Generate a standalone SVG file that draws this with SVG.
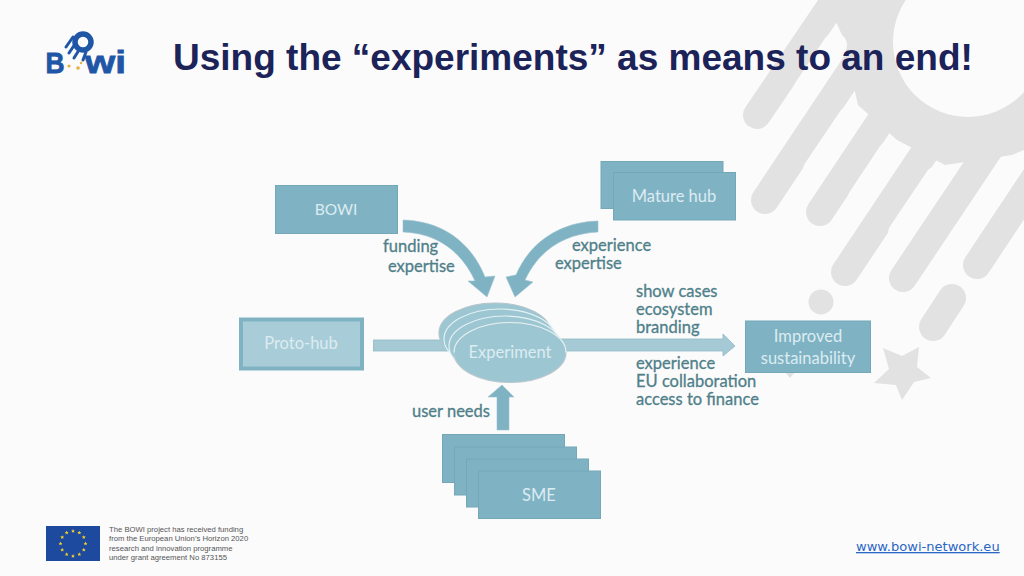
<svg xmlns="http://www.w3.org/2000/svg" xmlns:xlink="http://www.w3.org/1999/xlink" width="1024" height="576" viewBox="0 0 1024 576">
<style>
.wm{fill:#e2e2e3}
.f{stroke:#e2e2e3;stroke-width:28;stroke-linecap:round;fill:none}
.s{stroke:#fbfbfc;stroke-width:24;stroke-linecap:round;fill:none}
.box{fill:#7fb3c4;stroke:#74a8b9;stroke-width:1}
.bt{font-family:Lato,"Liberation Sans",sans-serif;font-size:16.5px;fill:#dcecf1;text-anchor:middle}
.lb{font-family:Lato,"Liberation Sans",sans-serif;font-size:16.5px;fill:#4f8089;stroke:#4f8089;stroke-width:.3}
.arr{fill:#7fb3c4;stroke:#9cc3cf;stroke-width:.6}
.arl{fill:#a5cad5;stroke:#8fb9c6;stroke-width:.8}
.el{fill:#9cc6d2;stroke:#e3f1f4;stroke-width:1.2}
.ft{font-family:"Liberation Sans",sans-serif;font-size:7.7px;fill:#555}
.lgt{font-family:"Liberation Sans",sans-serif;font-weight:700;fill:#1f57a6;stroke:#1f57a6;stroke-width:.8}
</style>
<defs>
<polygon id="st" points="0,-2 .6,-.6 2,-.6 .9,.3 1.3,1.7 0,.9 -1.3,1.7 -.9,.3 -2,-.6 -.6,-.6" fill="#f5d327"/>
</defs>
<rect width="1024" height="576" fill="#fbfbfc"/>
<g id="watermark">
<polygon class="wm" points="826,0 1024,0 1024,150 1012,155 945,165 897,140 858,105 842,35"/>
<path class="f" d="M757 115L835 0M765 200L885 20M820 212L940 32M845 272L965 92M903 278L1000 133M977 265L1060 140"/>
<path class="s" d="M835 45L805 90M850 118L815 170M890 153L860 198M937 178L900 233M1008 168L975 218"/>
<circle cx="968" cy="42" r="75" fill="#fbfbfc"/>
<path class="f" d="M933 327L952 298"/>
<circle class="wm" cx="821" cy="302" r="12.500"/>
<polygon class="wm" points="883,348 902,356 919,347 917,367 931,378 914,382 902,400 896,385 874,383 889,369"/>
<polygon class="wm" points="785,372 795,372 790,378"/>
</g>
<text id="title" x="173" y="70" font-family="'Liberation Sans',sans-serif" font-weight="700" font-size="37" fill="#1b2359">Using the “experiments” as means to an end!</text>
<g id="logo">
<text class="lgt" x="45.500" y="73" font-size="29" textLength="19" lengthAdjust="spacingAndGlyphs">B</text>
<circle cx="83" cy="42" r="8" fill="none" stroke="#1f57a6" stroke-width="5.500"/>
<path d="M73 37L66 47M75 44L69 53M79 50L74 58M86 52L83 60" stroke="#1f57a6" stroke-width="3" stroke-linecap="round" fill="none"/>
<circle cx="69" cy="66" r="1.600" fill="#e3b23c"/><circle cx="78" cy="68" r="1.800" fill="#e3b23c"/><circle cx="81" cy="63" r="1.200" fill="#e3b23c"/>
<text class="lgt" x="85" y="73" font-size="32" textLength="41" lengthAdjust="spacingAndGlyphs">wi</text>
</g>
<g id="connectors">
<path id="c-bowi" class="arr" d="M403 220C440 221 470 240 485 277L495 276L487 297L468 281L475 281C462 252 437 233 403 232Z"/>
<path id="c-mature" class="arr" d="M598 221C560 222 530 242 516 275L506 277L515 297L533 282L525 280C537 254 560 234 598 232Z"/>
<rect id="c-proto" class="arl" x="373.500" y="340" width="80" height="11"/>
<polygon id="c-out" class="arl" points="555,339 723,339 723,334 735,346 723,356 723,351 555,351"/>
<polygon id="c-sme" class="arr" points="497,430 497,397 488,397 502,385 514,397 509,397 509,430"/>
</g>
<g id="bowi"><rect class="box" x="275.500" y="185.500" width="122" height="48"/><text class="bt" x="336" y="215" style="font-size:15.500px">BOWI</text></g>
<g id="mature-hub"><rect class="box" x="601" y="161.500" width="122" height="47"/><rect class="box" x="613.500" y="172.500" width="122" height="47.500"/><text class="bt" x="674" y="202">Mature hub</text></g>
<g id="proto-hub"><rect x="241" y="319.500" width="121" height="49" fill="#a9cdd8" stroke="#7fb3c4" stroke-width="4"/><text class="bt" x="301" y="349">Proto-hub</text></g>
<g id="experiment">
<ellipse class="el" style="stroke:#b4c4c9" cx="495" cy="333" rx="56" ry="30"/>
<ellipse class="el" cx="500" cy="339" rx="56" ry="30"/>
<ellipse class="el" cx="505" cy="346" rx="56" ry="30"/>
<ellipse class="el" style="stroke:#b9c8cc" cx="510" cy="352.500" rx="56" ry="30"/>
<path d="M454 352.500A56 30 0 0 1 566 352.500" fill="none" stroke="#e3f1f4" stroke-width="1.200"/>
<text class="bt" x="510" y="358">Experiment</text>
</g>
<g id="improved"><rect class="box" x="745.500" y="321" width="125" height="51.500"/><text class="bt" x="808" y="342">Improved</text><text class="bt" x="808" y="364">sustainability</text></g>
<g id="sme">
<rect class="box" x="442.500" y="434.500" width="122" height="48"/>
<rect class="box" x="454.500" y="447" width="122" height="48"/>
<rect class="box" x="466.500" y="459" width="122" height="48"/>
<rect class="box" x="478.500" y="471" width="122" height="47.500"/>
<text class="bt" x="539" y="501">SME</text>
</g>
<g id="labels">
<text class="lb" x="383" y="252">funding</text>
<text class="lb" x="388" y="272">expertise</text>
<text class="lb" x="572" y="251">experience</text>
<text class="lb" x="555" y="269">expertise</text>
<text class="lb" x="636" y="297">show cases</text>
<text class="lb" x="636" y="315">ecosystem</text>
<text class="lb" x="636" y="333">branding</text>
<text class="lb" x="636" y="369">experience</text>
<text class="lb" x="636" y="387">EU collaboration</text>
<text class="lb" x="636" y="405">access to finance</text>
<text class="lb" x="412" y="417">user needs</text>
</g>
<g id="eu-flag">
<rect x="46" y="526" width="54" height="35" fill="#1d4a9e"/>
<use xlink:href="#st" x="73" y="531"/><use xlink:href="#st" x="79.300" y="532.700"/><use xlink:href="#st" x="83.800" y="537.200"/><use xlink:href="#st" x="85.500" y="543.500"/><use xlink:href="#st" x="83.800" y="549.800"/><use xlink:href="#st" x="79.300" y="554.300"/><use xlink:href="#st" x="73" y="556"/><use xlink:href="#st" x="66.700" y="554.300"/><use xlink:href="#st" x="62.200" y="549.800"/><use xlink:href="#st" x="60.500" y="543.500"/><use xlink:href="#st" x="62.200" y="537.200"/><use xlink:href="#st" x="66.700" y="532.700"/>
</g>
<g id="funding-note">
<text class="ft" x="109" y="532">The BOWI project has received funding</text>
<text class="ft" x="109" y="541">from the European Union’s Horizon 2020</text>
<text class="ft" x="109" y="551">research and innovation programme</text>
<text class="ft" x="109" y="560">under grant agreement No 873155</text>
</g>
<text id="url" x="856" y="551" font-family="'DejaVu Sans',sans-serif" font-size="13.050" fill="#2a66c4" text-decoration="underline">www.bowi-network.eu</text>
</svg>
